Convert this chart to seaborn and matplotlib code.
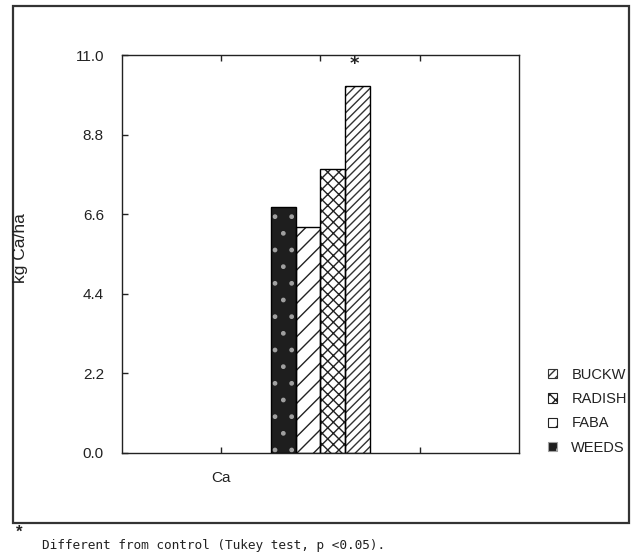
import matplotlib
matplotlib.use("Agg")
import matplotlib.pyplot as plt
from matplotlib.patches import Rectangle, Patch
import seaborn as sns
import pandas as pd

# ---- data ----
nutrients = ["Ca", "Ca", "Ca", "Ca"]
crops = ["WEEDS", "FABA", "RADISH", "BUCKW"]
values = [6.8, 6.25, 7.85, 10.15]
yticks = [0.0, 2.2, 4.4, 6.6, 8.8, 11.0]
ytick_labels = ["0.0", "2.2", "4.4", "6.6", "8.8", "11.0"]
xtick_labels = ["Ca", "", ""]
significant = ["BUCKW"]
footnote = "Different from control (Tukey test, p <0.05)."

sns.set_style("white")
plt.rcParams["font.family"] = ["Liberation Sans", "DejaVu Sans"]
plt.rcParams["hatch.linewidth"] = 1.0

fig = plt.figure(figsize=(6.31, 5.59), dpi=100)
ax = fig.add_axes([0.1933, 0.1905, 0.6292, 0.7111])

df = pd.DataFrame({"nutrient": nutrients, "crop": crops, "value": values})
sns.barplot(data=df, x="nutrient", y="value", hue="crop", hue_order=crops,
            palette=["white"] * 4, width=1.0, errorbar=None, legend=False,
            edgecolor="black", linewidth=1.0, ax=ax)

styles = {
    "WEEDS": dict(face="#1e1e1e", hatch=".", hcol="#a0a0a0"),
    "FABA": dict(face="white", hatch="//", hcol="#222222"),
    "RADISH": dict(face="white", hatch="xxx", hcol="#222222"),
    "BUCKW": dict(face="white", hatch="////", hcol="#333333"),
}
bars = list(ax.patches)[:len(crops)]
for crop, p in zip(crops, bars):
    st = styles[crop]
    p.set_facecolor(st["face"])
    p.set_hatch(st["hatch"])
    p.set_edgecolor(st["hcol"])
    p.set_linewidth(0)
    ax.add_patch(Rectangle(p.get_xy(), p.get_width(), p.get_height(),
                           fill=False, edgecolor="black", linewidth=1.0, zorder=3))
    if crop in significant:
        ax.text(p.get_x() + p.get_width() / 2 - 0.03, p.get_height() + 0.6, "*",
                ha="center", va="center", fontsize=13, fontweight="bold",
                family="DejaVu Sans", color="#222222")

ax.set_axisbelow(True)
ax.set_xlim(-2, 2)
ax.set_ylim(0, 11)
ax.set_xticks([-1, 0, 1])
ax.set_xticklabels(xtick_labels)
ax.set_yticks(yticks)
ax.set_yticklabels(ytick_labels)
ax.tick_params(axis="both", direction="in", length=4.5, width=1, colors="#222222",
               labelsize=11, top=True, bottom=True, left=True, right=False)
ax.tick_params(axis="y", pad=13)
ax.tick_params(axis="x", pad=13)
ax.set_xlabel("")
ax.set_ylabel("")
for s in ax.spines.values():
    s.set_visible(True)
    s.set_linewidth(1.0)
    s.set_color("#222222")

# y label
fig.text(21 / 631, 1 - 248 / 559, "kg Ca/ha", rotation=90, ha="center",
         va="center", fontsize=12.5, color="#222222")

# legend
handles = []
for crop in crops[::-1]:
    st = styles[crop]
    handles.append(Patch(facecolor=st["face"], hatch=st["hatch"],
                         edgecolor=st["hcol"], linewidth=0.8, label=crop))
fig.legend(handles=handles, labels=crops[::-1], loc="upper left",
           bbox_to_anchor=(548 / 631, 1 - 368 / 559), frameon=False,
           handlelength=0.6, handleheight=0.6, handletextpad=1.0,
           labelspacing=0.7, fontsize=10.5, borderaxespad=0, borderpad=0,
           labelcolor="#222222")

# outer frame
fig.add_artist(Rectangle((13 / 631, 1 - 523 / 559), 616 / 631, 517 / 559,
                         transform=fig.transFigure, fill=False,
                         edgecolor="#333333", linewidth=1.6))

# footnote
fig.text(19 / 631, 1 - 532 / 559, "*", ha="center", va="center",
         fontsize=12, fontweight="bold", color="#222222")
fig.text(42 / 631, 1 - 545 / 559, footnote, ha="left", va="center",
         family="DejaVu Sans Mono", fontsize=9.2, color="#222222")

fig.savefig("out.png", dpi=100)
